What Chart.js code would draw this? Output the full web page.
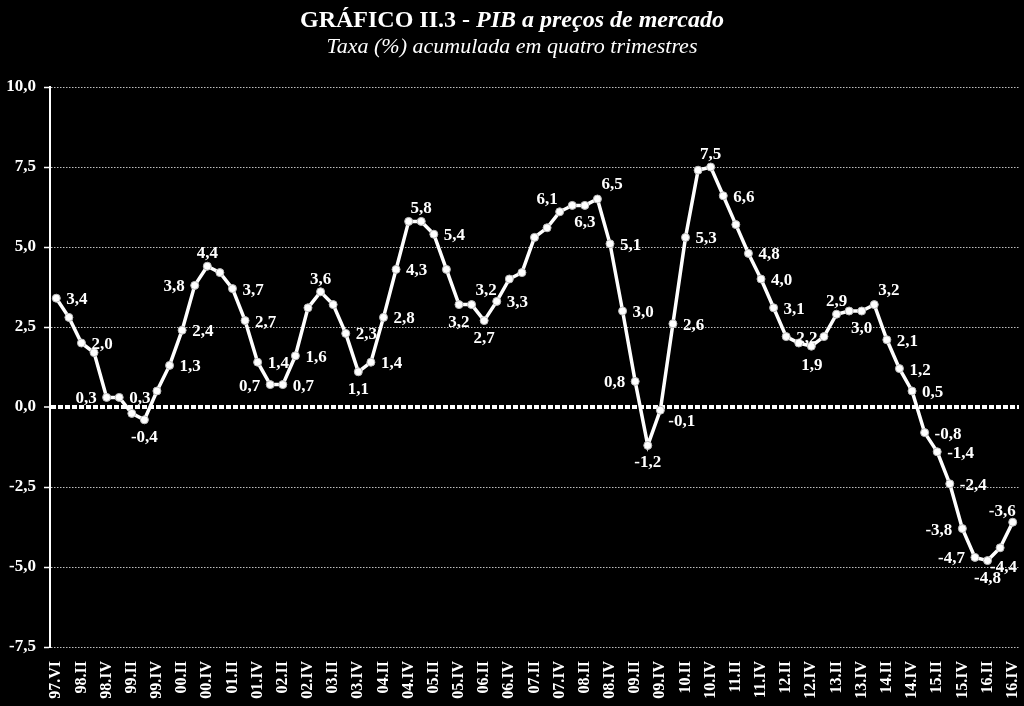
<!DOCTYPE html>
<html>
<head>
<meta charset="utf-8">
<script src="https://cdn.jsdelivr.net/npm/chart.js@4"></script>
<style>
  html, body { margin: 0; padding: 0; background: #000; }
  #wrap { position: relative; width: 1024px; height: 706px; }
  .ttl { position: absolute; left: 0; width: 1024px; text-align: center; color: #fff;
         font-family: "Liberation Serif", "Times New Roman", serif; }
  #t1 { top: 5px; font-size: 24px; font-weight: bold; line-height: 28px; }
  #t2 { top: 32px; font-size: 22px; font-style: italic; line-height: 28px; }
</style>
</head>
<body>
<div id="wrap">
  <div class="ttl" id="t1">GRÁFICO II.3 - <i>PIB a preços de mercado</i></div>
  <div class="ttl" id="t2">Taxa (%) acumulada em quatro trimestres</div>
  <canvas id="chart" width="1024" height="706"></canvas>
</div>
<script>
// quarters 97.IV .. 16.IV
const romans = ["I", "II", "III", "IV"];
const quarters = ["97.IV"];
for (let y = 98; y <= 116; y++) {
  for (const r of romans) quarters.push(String(y % 100).padStart(2, "0") + "." + r);
}

// labels printed under the axis (every second quarter, as in the original)
const tickLabels = [
  "97.VI", "98.II", "98.IV", "99.II", "99.IV", "00.II", "00.IV", "01.II", "01.IV", "02.II",
  "02.IV", "03.II", "03.IV", "04.II", "04.IV", "05.II", "05.IV", "06.II", "06.IV", "07.II",
  "07.IV", "08.II", "08.IV", "09.II", "09.IV", "10.II", "10.IV", "11.II", "11.IV", "12.II",
  "12.IV", "13.II", "13.IV", "14.II", "14.IV", "15.II", "15.IV", "16.II", "16.IV"
];

// PIB, taxa acumulada em quatro trimestres (%)
const pib = [
  3.4, 2.8, 2.0, 1.7, 0.3, 0.3, -0.2, -0.4, 0.5, 1.3,
  2.4, 3.8, 4.4, 4.2, 3.7, 2.7, 1.4, 0.7, 0.7, 1.6,
  3.1, 3.6, 3.2, 2.3, 1.1, 1.4, 2.8, 4.3, 5.8, 5.8,
  5.4, 4.3, 3.2, 3.2, 2.7, 3.3, 4.0, 4.2, 5.3, 5.6,
  6.1, 6.3, 6.3, 6.5, 5.1, 3.0, 0.8, -1.2, -0.1, 2.6,
  5.3, 7.4, 7.5, 6.6, 5.7, 4.8, 4.0, 3.1, 2.2, 2.0,
  1.9, 2.2, 2.9, 3.0, 3.0, 3.2, 2.1, 1.2, 0.5, -0.8,
  -1.4, -2.4, -3.8, -4.7, -4.8, -4.4, -3.6
];

// which points carry a value label, and where it sits
const labelPlacement = {
  0: "right", 2: "right", 4: "left", 5: "right", 7: "below", 9: "right", 10: "right",
  11: "left", 12: "above", 14: "right", 15: "right", 16: "right", 17: "left", 18: "right",
  19: "right", 21: "above", 23: "right", 24: "below", 25: "right", 26: "right", 27: "right",
  29: "above", 30: "right", 32: "below", 33: "aboveRight", 34: "below", 35: "right",
  40: "aboveLeft", 42: "below", 43: "aboveRight", 44: "right", 45: "right", 46: "left",
  47: "below", 48: "rightBelow", 49: "right", 50: "right", 52: "above", 53: "right",
  55: "right", 56: "right", 57: "right", 58: "right", 60: "belowRight", 62: "above",
  64: "below", 65: "aboveRight", 66: "right", 67: "right", 68: "right", 69: "right",
  70: "right", 71: "right", 72: "left", 73: "left", 74: "below", 75: "belowRight",
  76: "aboveEnd"
};

const serif = "'Liberation Serif', 'Times New Roman', serif";
const fmt = (v) => v.toFixed(1).replace(".", ",");

const valueLabels = {
  id: "valueLabels",
  afterDatasetsDraw(chart) {
    const ctx = chart.ctx;
    const meta = chart.getDatasetMeta(0);
    ctx.save();
    ctx.fillStyle = "#fff";
    ctx.font = "bold 17px " + serif;
    ctx.textBaseline = "alphabetic";
    for (const key in labelPlacement) {
      const i = Number(key);
      const pt = meta.data[i];
      const txt = fmt(pib[i]);
      let x = pt.x, y = pt.y;
      switch (labelPlacement[key]) {
        case "right": ctx.textAlign = "left"; x += 10; y += 6; break;
        case "left": ctx.textAlign = "right"; x -= 10; y += 6; break;
        case "above": ctx.textAlign = "center"; y -= 8; break;
        case "below": ctx.textAlign = "center"; y += 22; break;
        case "aboveRight": ctx.textAlign = "left"; x += 4; y -= 10; break;
        case "aboveLeft": ctx.textAlign = "right"; x -= 2; y -= 8; break;
        case "aboveEnd": ctx.textAlign = "right"; x += 3; y -= 6; break;
        case "rightBelow": ctx.textAlign = "left"; x += 8; y += 16; break;
        case "belowRight": ctx.textAlign = "left"; x -= 10; y += 24; break;
      }
      ctx.fillText(txt, x, y);
    }
    ctx.restore();
  }
};

const isZero = (c) => c.tick && Math.abs(c.tick.value) < 1e-9;

new Chart(document.getElementById("chart"), {
  type: "line",
  data: {
    labels: quarters,
    datasets: [{
      data: pib,
      borderColor: "#fff",
      borderWidth: 3.5,
      pointRadius: 4,
      pointBackgroundColor: "#fff",
      pointBorderColor: "#bbb",
      pointBorderWidth: 1,
      tension: 0,
      fill: false
    }]
  },
  options: {
    responsive: false,
    animation: false,
    layout: { padding: { top: 87, right: -3, left: 0, bottom: 0 } },
    plugins: { legend: { display: false }, tooltip: { enabled: false } },
    scales: {
      x: {
        offset: true,
        grid: { display: false, drawTicks: false },
        border: { display: false },
        ticks: {
          autoSkip: false,
          maxRotation: 90,
          minRotation: 90,
          padding: 14,
          color: "#fff",
          font: { family: serif, size: 16, weight: "bold" },
          callback: (v, i) => (i % 2 === 0 ? tickLabels[i / 2] : "")
        },
        afterFit: (s) => { s.height = 59; s.paddingLeft = 0; s.paddingRight = 0; }
      },
      y: {
        min: -7.5,
        max: 10,
        ticks: {
          stepSize: 2.5,
          padding: 8,
          color: "#fff",
          font: { family: serif, size: 17, weight: "bold" },
          callback: (v) => fmt(v)
        },
        grid: {
          color: (c) => (isZero(c) ? "#fff" : "rgba(255,255,255,0.75)"),
          lineWidth: (c) => (isZero(c) ? 4 : 1),
          drawTicks: true,
          tickLength: 6,
          tickWidth: 1.5,
          tickColor: "#fff"
        },
        border: {
          display: true,
          color: "#fff",
          width: 2,
          dash: (c) => (isZero(c) ? [5, 2] : [1.5, 1.5])
        },
        afterFit: (s) => { s.width = 50; }
      }
    }
  },
  plugins: [valueLabels]
});
</script>
</body>
</html>
